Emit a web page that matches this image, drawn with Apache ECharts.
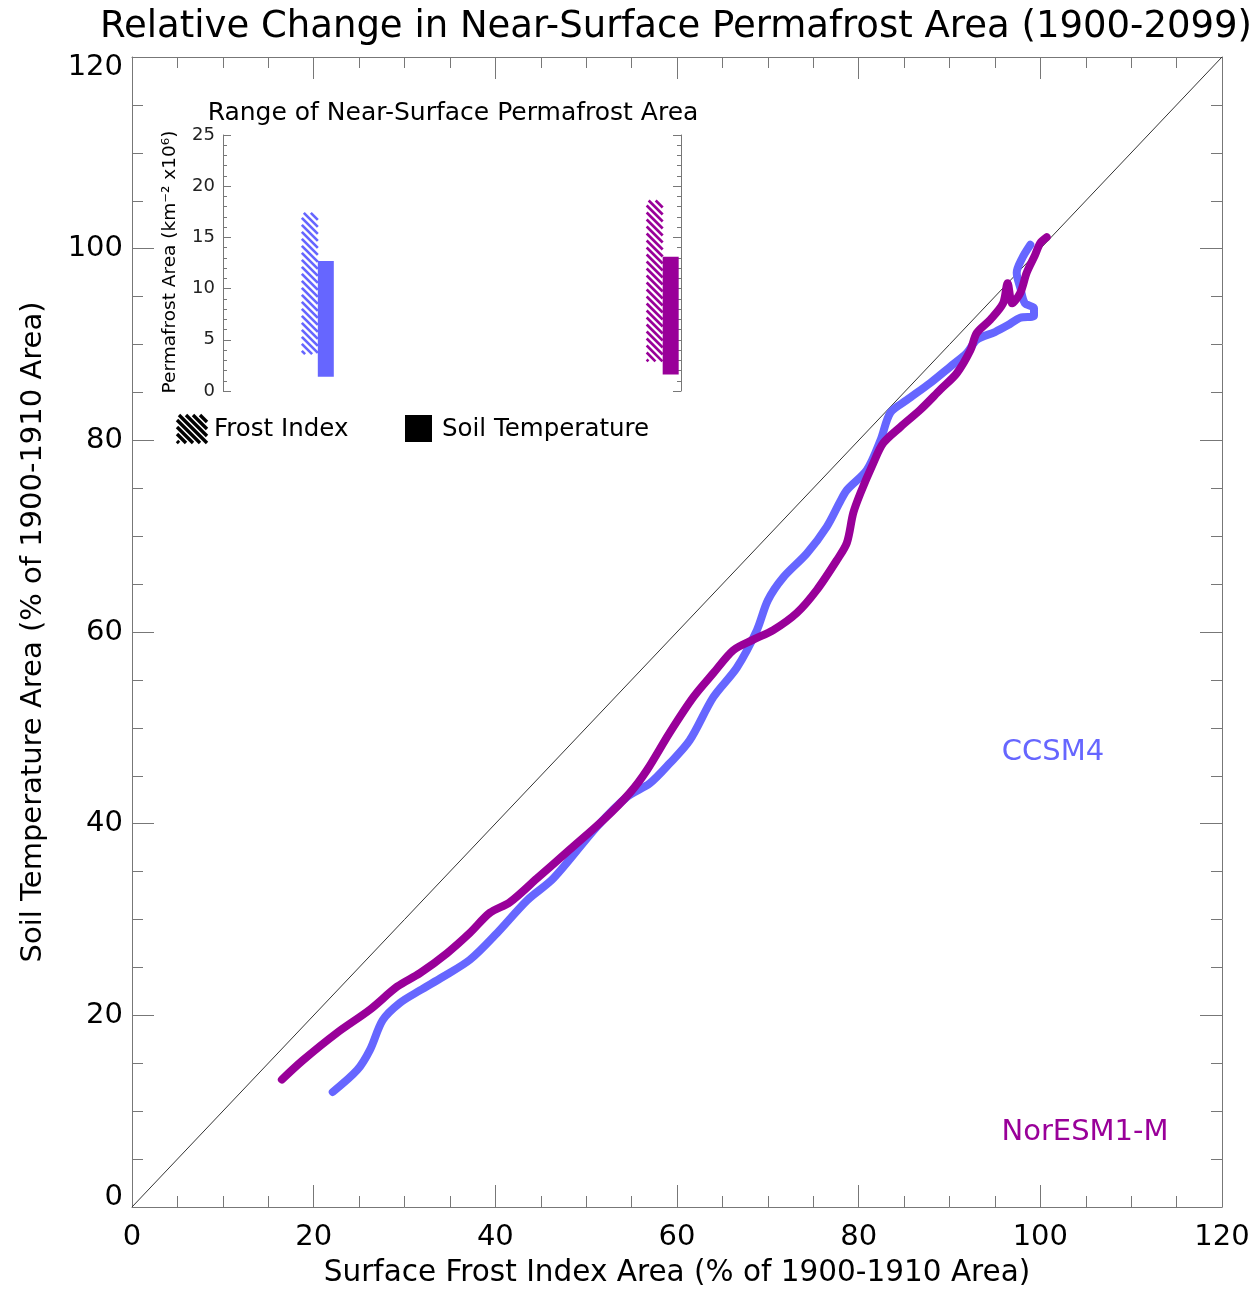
<!DOCTYPE html>
<html><head><meta charset="utf-8">
<script src="https://cdn.jsdelivr.net/npm/echarts@6/dist/echarts.min.js"></script>
<style>html,body{margin:0;padding:0;background:#fff}#c{width:1257px;height:1290px}</style>
</head><body><div id="c"></div>
<script>
// ---------- DATA ----------
// CCSM4: Frost-index area (x) vs soil-temperature area (y), % of 1900-1910, from 1900 to 2099
const ccsm4 = [
  [98.9,100.4],[98.0,99.0],[97.4,97.5],[97.8,95.9],[98.3,94.3],[99.3,93.8],[99.3,93.0],
  [97.8,92.8],[96.4,92.0],[95.0,91.3],[93.0,90.5],[91.9,89.1],[90.1,87.7],[87.9,86.0],
  [85.3,84.2],[83.5,82.9],[82.4,80.0],[80.9,76.9],[78.7,74.8],[77.9,73.5],[76.5,71.0],
  [74.3,68.2],[71.7,65.7],[70.0,63.3],[68.8,60.2],[66.6,56.3],[64.0,53.2],[61.4,48.7],
  [59.2,46.3],[57.0,44.2],[54.5,42.8],[51.2,39.7],[46.4,34.3],[43.5,32.0],[40.2,28.6],
  [37.2,25.8],[34.2,24.0],[31.7,22.6],[29.5,21.3],[27.6,19.5],[26.2,16.4],[24.8,14.3],
  [22.1,12.0]
];
// NorESM1-M
const noresm = [
  [100.7,101.2],[100.0,100.6],[99.4,99.3],[98.5,97.5],[97.8,95.4],[96.9,94.3],[96.4,96.4],
  [95.9,94.3],[94.5,92.6],[93.0,91.2],[92.3,89.4],[90.8,87.0],[89.0,85.3],[86.8,83.2],
  [84.6,81.4],[82.7,79.7],[81.6,77.6],[80.2,74.5],[79.4,72.4],[78.7,69.3],[77.6,67.5],
  [75.4,64.4],[73.2,62.0],[70.6,60.2],[68.4,59.2],[66.2,58.1],[64.0,55.7],[61.8,53.2],
  [59.2,49.5],[56.7,45.6],[54.8,43.2],[51.9,40.4],[48.2,37.3],[44.6,34.3],[41.6,31.8],
  [39.4,30.7],[37.2,28.6],[34.7,26.5],[31.7,24.4],[29.2,23.0],[26.2,20.6],[22.6,18.2],
  [18.8,15.3],[16.5,13.3]
];
const oneToOne = [[0,0],[120,120]];
const modelNames = ['CCSM4','NorESM1-M'];
// Inset: range of near-surface permafrost area (km^2 x10^6), [min, max]
const frostIndexRange = [[3.6,17.4],[2.9,18.6]];
const soilTempRange   = [[1.4,12.7],[1.6,13.1]];
const mainTicks = {min:0, max:120, interval:20};
const insetTicks = {min:0, max:25, interval:5};

// ---------- STYLE / LAYOUT ----------
const colors = ['#6666ff','#990099'];
const FONT = '"DejaVu Sans", Verdana, sans-serif';
const AX = '#777';
const groupPos = [0.207, 0.96];   // horizontal position of each model in the inset
const BAR_W = 16;

function hatchSegs(x0,y0,w,h,step){
  const segs=[];
  for(let c=y0-(x0+w); c<=y0+h-x0; c+=step){
    const xa=Math.max(x0,y0-c), xb=Math.min(x0+w,y0+h-c);
    if(xb>xa) segs.push([xa,xa+c,xb,xb+c]);
  }
  return segs;
}

const chart = echarts.init(document.getElementById('c'), null, {renderer:'canvas'});

function yLabelFmt(v){
  if(v===0) return '{lo|0}';
  if(v===120) return '{hi|120}';
  return '{n|'+v+'}';
}
const tickRich = {
  n:{fontSize:29,fontFamily:FONT,color:'#000'},
  lo:{fontSize:29,fontFamily:FONT,color:'#000',padding:[0,0,20,0]},
  hi:{fontSize:29,fontFamily:FONT,color:'#000',padding:[20,0,0,0]}
};

function mainAxis(extra){
  return Object.assign({
    type:'value', gridIndex:0, min:mainTicks.min, max:mainTicks.max, interval:mainTicks.interval,
    axisLine:{show:true,onZero:false,lineStyle:{color:AX,width:1}},
    axisTick:{show:true,inside:true,length:22,lineStyle:{color:AX}},
    minorTick:{show:true,splitNumber:4,length:11,lineStyle:{color:AX}},
    splitLine:{show:false}, minorSplitLine:{show:false},
    axisLabel:{show:false}
  }, extra);
}
function insetY(extra){
  return Object.assign({
    type:'value', gridIndex:1, min:insetTicks.min, max:insetTicks.max, interval:insetTicks.interval,
    axisLine:{show:true,onZero:false,lineStyle:{color:AX}},
    axisTick:{show:true,inside:true,length:8,lineStyle:{color:AX}},
    minorTick:{show:true,splitNumber:5,length:4,lineStyle:{color:AX}},
    splitLine:{show:false}, axisLabel:{show:false}
  }, extra);
}

const legendIcon = [];
hatchSegs(177,415,30,28,7).forEach(s=>legendIcon.push({
  type:'line', shape:{x1:s[0],y1:s[1],x2:s[2],y2:s[3]}, style:{stroke:'#000',lineWidth:3.4}
}));

const option = {
  animation:false,
  backgroundColor:'#fff',
  grid:[
    {left:132, top:57, width:1090, height:1150},
    {left:223, top:135, width:458, height:256}
  ],
  xAxis:[
    mainAxis({position:'bottom', axisLabel:{show:true,fontSize:29,fontFamily:FONT,color:'#000',margin:16}}),
    mainAxis({position:'top'}),
    {type:'value', gridIndex:1, min:0, max:1, show:false}
  ],
  yAxis:[
    mainAxis({position:'left', axisLabel:{show:true,margin:9,formatter:yLabelFmt,rich:tickRich}}),
    mainAxis({position:'right'}),
    insetY({position:'left', axisLabel:{show:true,fontSize:18,fontFamily:FONT,color:'#222',margin:8}}),
    insetY({position:'right'})
  ],
  series:[
    {type:'line', xAxisIndex:0, yAxisIndex:0, data:oneToOne, symbol:'none',
      lineStyle:{color:'#333',width:1}, silent:true, z:1},
    {type:'line', name:modelNames[0], xAxisIndex:0, yAxisIndex:0, data:ccsm4, symbol:'none', smooth:0.3,
      lineStyle:{color:colors[0],width:8,cap:'round',join:'round'}, z:2},
    {type:'line', name:modelNames[1], xAxisIndex:0, yAxisIndex:0, data:noresm, symbol:'none', smooth:0.3,
      lineStyle:{color:colors[1],width:8,cap:'round',join:'round'}, z:3},
    {type:'custom', name:'Frost Index', xAxisIndex:2, yAxisIndex:2,
      data:frostIndexRange.map((r,i)=>[i,r[0],r[1]]),
      renderItem:function(params, api){
        const gi=api.value(0);
        const lo=api.coord([groupPos[gi], api.value(1)]);
        const hi=api.coord([groupPos[gi], api.value(2)]);
        const x0=lo[0]-BAR_W, y0=hi[1], h=lo[1]-hi[1];
        const children = hatchSegs(x0,y0,BAR_W,h,7).map(s=>({
          type:'line', shape:{x1:s[0],y1:s[1],x2:s[2],y2:s[3]},
          style:{stroke:colors[gi],lineWidth:2.6}
        }));
        return {type:'group', children:children};
      }},
    {type:'custom', name:'Soil Temperature', xAxisIndex:2, yAxisIndex:2,
      data:soilTempRange.map((r,i)=>[i,r[0],r[1]]),
      renderItem:function(params, api){
        const gi=api.value(0);
        const lo=api.coord([groupPos[gi], api.value(1)]);
        const hi=api.coord([groupPos[gi], api.value(2)]);
        return {type:'rect', shape:{x:lo[0], y:hi[1], width:BAR_W, height:lo[1]-hi[1]},
          style:{fill:colors[gi]}};
      }}
  ],
  graphic:[
    {type:'text', x:676, y:27, style:{text:'Relative Change in Near-Surface Permafrost Area (1900-2099)',
      font:'37px '+FONT, fill:'#000', textAlign:'center', textVerticalAlign:'middle'}},
    {type:'text', x:677, y:1273, style:{text:'Surface Frost Index Area (% of 1900-1910 Area)',
      font:'29.5px '+FONT, fill:'#000', textAlign:'center', textVerticalAlign:'middle'}},
    {type:'text', x:33, y:632, rotation:Math.PI/2, style:{text:'Soil Temperature Area (% of 1900-1910 Area)',
      font:'29px '+FONT, fill:'#000', textAlign:'center', textVerticalAlign:'middle'}},
    {type:'text', x:1053, y:752, style:{text:modelNames[0], font:'29px '+FONT, fill:colors[0],
      textAlign:'center', textVerticalAlign:'middle'}},
    {type:'text', x:1085, y:1132, style:{text:modelNames[1], font:'29px '+FONT, fill:colors[1],
      textAlign:'center', textVerticalAlign:'middle'}},
    {type:'text', x:453, y:113, style:{text:'Range of Near-Surface Permafrost Area', font:'25px '+FONT, fill:'#000',
      textAlign:'center', textVerticalAlign:'middle'}},
    {type:'text', x:170, y:262, rotation:Math.PI/2, style:{text:'Permafrost Area (km\u207B\u00B2 x10\u2076)',
      font:'18.5px '+FONT, fill:'#000', textAlign:'center', textVerticalAlign:'middle'}},
    {type:'group', children:legendIcon},
    {type:'text', x:214, y:430, style:{text:'Frost Index', font:'24.5px '+FONT, fill:'#000', textVerticalAlign:'middle'}},
    {type:'rect', shape:{x:405,y:415,width:27,height:27}, style:{fill:'#000'}},
    {type:'text', x:442, y:430, style:{text:'Soil Temperature', font:'24.5px '+FONT, fill:'#000', textVerticalAlign:'middle'}}
  ]
};
chart.setOption(option);
</script>
</body></html>
